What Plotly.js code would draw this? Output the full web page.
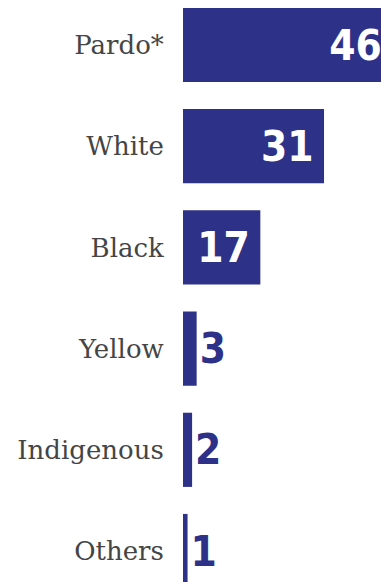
<!DOCTYPE html>
<html>
<head>
<meta charset="utf-8">
<script src="https://cdn.plot.ly/plotly-3.0.1.min.js"></script>
<style>
html,body{margin:0;padding:0;overflow:hidden;background:#fff;}
#chart{width:400px;height:582px;}
</style>
</head>
<body>
<div id="chart"></div>
<script>
var categories = ["Pardo*", "White", "Black", "Yellow", "Indigenous", "Others"];
var values = [46, 31, 17, 3, 2, 1];
var textPositions = ["inside", "inside", "inside", "outside", "outside", "outside"];

var barColor = "#2E3188";
var numFont = "'Liberation Sans Narrow', 'DejaVu Sans Condensed', 'Arial Narrow', sans-serif";

var trace = {
  type: "bar",
  orientation: "h",
  x: values,
  y: categories,
  marker: {color: barColor, line: {width: 0}},
  text: values.map(String),
  texttemplate: "%{x}<span style='font-size:24px'>\u00A0</span>",
  textposition: textPositions,
  insidetextanchor: "end",
  constraintext: "none",
  cliponaxis: false,
  insidetextfont: {family: numFont, size: 42, color: "#ffffff", weight: 700},
  outsidetextfont: {family: numFont, size: 42, color: barColor, weight: 700},
  hoverinfo: "none"
};

var layout = {
  width: 400,
  height: 582,
  margin: {l: 183, r: 0, t: 0, b: 0, pad: 0},
  paper_bgcolor: "#ffffff",
  plot_bgcolor: "#ffffff",
  bargap: 0.267,
  showlegend: false,
  xaxis: {
    range: [0, 47.7],
    visible: false,
    fixedrange: true
  },
  yaxis: {
    type: "category",
    range: [5.306, -0.4447],
    showgrid: false,
    zeroline: false,
    showline: false,
    ticks: "outside",
    ticklen: 13,
    tickcolor: "rgba(0,0,0,0)",
    automargin: false,
    tickfont: {family: "'DejaVu Serif', serif", size: 26, color: "#454545"},
    fixedrange: true
  }
};

Plotly.newPlot("chart", [trace], layout, {displayModeBar: false, staticPlot: true});
</script>
</body>
</html>
